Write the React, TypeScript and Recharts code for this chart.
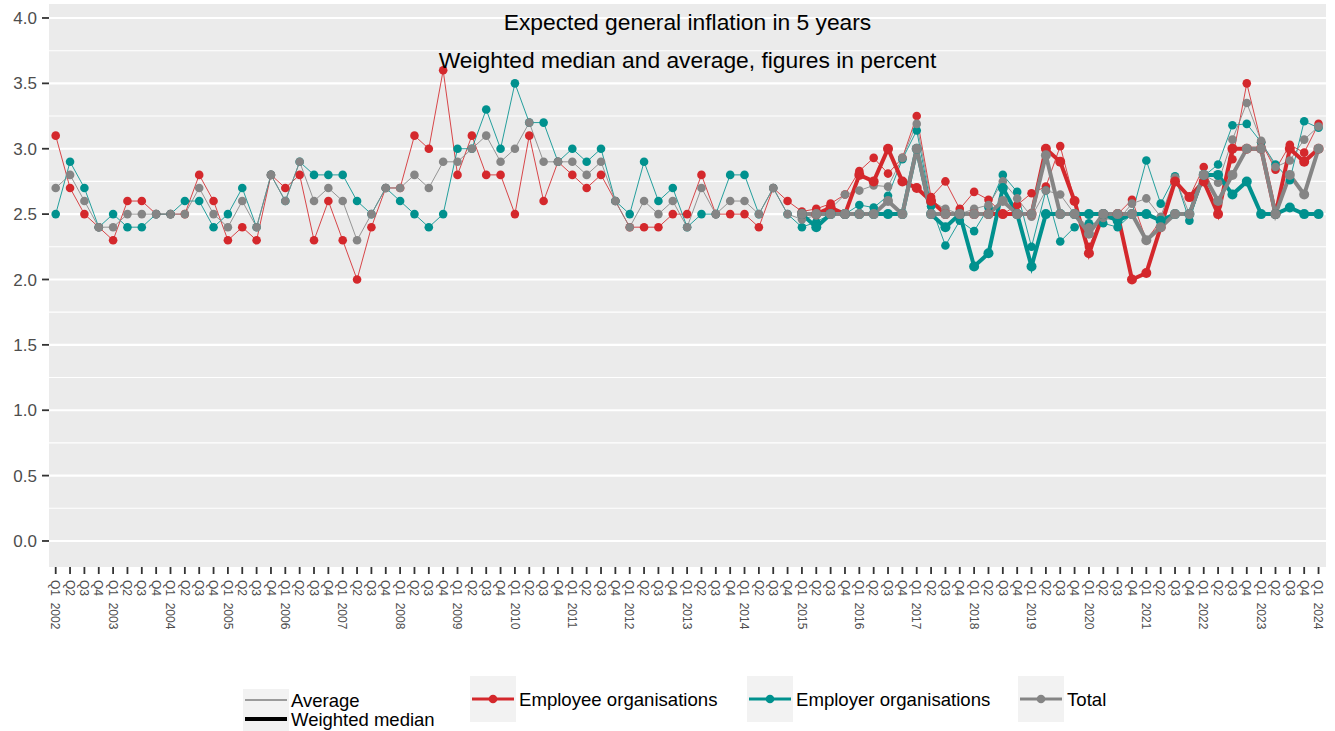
import React from 'react';
import { LineChart, Line, XAxis, YAxis, CartesianGrid } from 'recharts';

const quarterLabels: string[] = [
  'Q1 2002', 'Q2', 'Q3', 'Q4', 'Q1 2003', 'Q2', 'Q3', 'Q4', 'Q1 2004', 'Q2', 'Q3', 'Q4',
  'Q1 2005', 'Q2', 'Q3', 'Q4', 'Q1 2006', 'Q2', 'Q3', 'Q4', 'Q1 2007', 'Q2', 'Q3', 'Q4',
  'Q1 2008', 'Q2', 'Q3', 'Q4', 'Q1 2009', 'Q2', 'Q3', 'Q4', 'Q1 2010', 'Q2', 'Q3', 'Q4',
  'Q1 2011', 'Q2', 'Q3', 'Q4', 'Q1 2012', 'Q2', 'Q3', 'Q4', 'Q1 2013', 'Q2', 'Q3', 'Q4',
  'Q1 2014', 'Q2', 'Q3', 'Q4', 'Q1 2015', 'Q2', 'Q3', 'Q4', 'Q1 2016', 'Q2', 'Q3', 'Q4',
  'Q1 2017', 'Q2', 'Q3', 'Q4', 'Q1 2018', 'Q2', 'Q3', 'Q4', 'Q1 2019', 'Q2', 'Q3', 'Q4',
  'Q1 2020', 'Q2', 'Q3', 'Q4', 'Q1 2021', 'Q2', 'Q3', 'Q4', 'Q1 2022', 'Q2', 'Q3', 'Q4',
  'Q1 2023', 'Q2', 'Q3', 'Q4', 'Q1 2024',
];

// Averages, Q1 2002 - Q1 2024
const employeeAverage: number[] = [
  3.1, 2.7, 2.5, 2.4, 2.3, 2.6, 2.6, 2.5, 2.5, 2.5, 2.8, 2.6,
  2.3, 2.4, 2.3, 2.8, 2.7, 2.8, 2.3, 2.6, 2.3, 2.0, 2.4, 2.7,
  2.7, 3.1, 3.0, 3.6, 2.8, 3.1, 2.8, 2.8, 2.5, 3.1, 2.6, 2.9,
  2.8, 2.7, 2.8, 2.6, 2.4, 2.4, 2.4, 2.5, 2.5, 2.8, 2.5, 2.5,
  2.5, 2.4, 2.7, 2.6, 2.52, 2.54, 2.58, 2.65, 2.83, 2.93, 2.81, 2.93,
  3.25, 2.63, 2.75, 2.54, 2.67, 2.61, 2.5, 2.57, 2.66, 2.71, 3.02, 2.6,
  2.25, 2.5, 2.5, 2.61, 2.3, 2.45, 2.77, 2.63, 2.86, 2.57, 2.92, 3.5,
  3.05, 2.84, 3.03, 2.97, 3.19,
];
const employerAverage: number[] = [
  2.5, 2.9, 2.7, 2.4, 2.5, 2.4, 2.4, 2.5, 2.5, 2.6, 2.6, 2.4,
  2.5, 2.7, 2.4, 2.8, 2.6, 2.9, 2.8, 2.8, 2.8, 2.6, 2.5, 2.7,
  2.6, 2.5, 2.4, 2.5, 3.0, 3.0, 3.3, 3.0, 3.5, 3.2, 3.2, 2.9,
  3.0, 2.9, 3.0, 2.6, 2.5, 2.9, 2.6, 2.7, 2.4, 2.5, 2.5, 2.8,
  2.8, 2.5, 2.7, 2.5, 2.4, 2.44, 2.5, 2.5, 2.57, 2.55, 2.64, 2.92,
  3.14, 2.56, 2.26, 2.45, 2.37, 2.55, 2.8, 2.67, 2.25, 2.68, 2.29, 2.4,
  2.43, 2.43, 2.4, 2.5, 2.91, 2.58, 2.79, 2.45, 2.79, 2.88, 3.18, 3.19,
  3.05, 2.88, 2.76, 3.21, 3.16,
];
const totalAverage: number[] = [
  2.7, 2.8, 2.6, 2.4, 2.4, 2.5, 2.5, 2.5, 2.5, 2.5, 2.7, 2.5,
  2.4, 2.6, 2.4, 2.8, 2.6, 2.9, 2.6, 2.7, 2.6, 2.3, 2.5, 2.7,
  2.7, 2.8, 2.7, 2.9, 2.9, 3.0, 3.1, 2.9, 3.0, 3.2, 2.9, 2.9,
  2.9, 2.8, 2.9, 2.6, 2.4, 2.6, 2.5, 2.6, 2.4, 2.7, 2.5, 2.6,
  2.6, 2.5, 2.7, 2.5, 2.46, 2.49, 2.54, 2.65, 2.68, 2.72, 2.71, 2.93,
  3.19, 2.6, 2.54, 2.5, 2.54, 2.57, 2.75, 2.62, 2.48, 2.68, 2.65, 2.5,
  2.4, 2.47, 2.45, 2.58, 2.62, 2.48, 2.78, 2.5, 2.8, 2.74, 3.07, 3.35,
  3.06, 2.86, 2.91, 3.07, 3.17,
];

// Weighted medians, Q1 2015 - Q1 2024
const medianStartLabel = 'Q1 2015';
const employeeMedian: number[] = [
  2.5, 2.5, 2.55, 2.5, 2.8, 2.75, 3.0, 2.75, 2.7, 2.6, 2.5, 2.5,
  2.5, 2.5, 2.5, 2.5, 2.5, 3.0, 2.9, 2.6, 2.2, 2.5, 2.5, 2.0,
  2.05, 2.4, 2.75, 2.63, 2.75, 2.5, 3.0, 3.0, 3.0, 2.5, 3.0, 2.9,
  3.0,
];
const employerMedian: number[] = [
  2.5, 2.4, 2.5, 2.5, 2.5, 2.5, 2.5, 2.5, 3.0, 2.5, 2.4, 2.5,
  2.1, 2.2, 2.7, 2.5, 2.1, 2.5, 2.5, 2.5, 2.5, 2.5, 2.45, 2.5,
  2.5, 2.45, 2.5, 2.5, 2.8, 2.8, 2.65, 2.75, 2.5, 2.5, 2.55, 2.5,
  2.5,
];
const totalMedian: number[] = [
  2.5, 2.5, 2.5, 2.5, 2.5, 2.5, 2.6, 2.5, 3.0, 2.5, 2.5, 2.5,
  2.5, 2.5, 2.6, 2.5, 2.5, 2.95, 2.5, 2.5, 2.35, 2.5, 2.5, 2.5,
  2.3, 2.4, 2.5, 2.5, 2.8, 2.6, 2.8, 3.0, 3.0, 2.5, 2.8, 2.65,
  3.0,
];

const yTicks: number[] = [0, 0.5, 1, 1.5, 2, 2.5, 3, 3.5, 4];
const yMinor: number[] = [0.25, 0.75, 1.25, 1.75, 2.25, 2.75, 3.25, 3.75];

const titleText = 'Expected general inflation in 5 years';
const subtitleText = 'Weighted median and average, figures in percent';
const seriesNames = ['Employee organisations', 'Employer organisations', 'Total'];
const typeNames = ['Average', 'Weighted median'];

const RED = '#D4282C';
const TEAL = '#00918E';
const GRAY = '#858585';
const FONT = '"Liberation Sans", Arial, sans-serif';

const medianStart = quarterLabels.indexOf(medianStartLabel);

const data = quarterLabels.map((q, i) => ({
  idx: i,
  label: q,
  empAvg: employeeAverage[i],
  emrAvg: employerAverage[i],
  totAvg: totalAverage[i],
  empMed: i >= medianStart ? employeeMedian[i - medianStart] : null,
  emrMed: i >= medianStart ? employerMedian[i - medianStart] : null,
  totMed: i >= medianStart ? totalMedian[i - medianStart] : null,
}));

const xTickValues = quarterLabels.map((_, i) => i);

const XTick = (props: any) => {
  const { x, y, payload } = props;
  const label = quarterLabels[payload.value] ?? '';
  return (
    <g transform={`translate(${x},${y})`}>
      <text
        transform="rotate(90)"
        x={0}
        y={0}
        dy="0.36em"
        textAnchor="start"
        fontSize={12}
        fill="#4D4D4D"
        fontFamily={FONT}
        style={{ whiteSpace: 'pre' }}
      >
        {label.replace(' ', '  ')}
      </text>
    </g>
  );
};

const W = 1335;
const H = 731;

export default function App() {
  const thinDot = (c: string) => ({ r: 4.3, fill: c, stroke: c, strokeWidth: 0 });
  const thickDot = (c: string) => ({ r: 5, fill: c, stroke: c, strokeWidth: 0 });
  return (
    <div style={{ position: 'absolute', left: 0, top: 0, width: W, height: H, background: '#fff' }}>
      <LineChart
        width={W}
        height={H}
        data={data}
        margin={{ top: 4, right: 9, bottom: 104, left: 0 }}
      >
        <CartesianGrid
          fill="#EBEBEB"
          vertical={false}
          horizontalValues={yMinor}
          stroke="#FFFFFF"
          strokeWidth={1.1}
        />
        <CartesianGrid
          vertical={false}
          horizontalValues={yTicks}
          stroke="#FFFFFF"
          strokeWidth={2.2}
        />
        <XAxis
          dataKey="idx"
          type="number"
          domain={[-0.467, 88.52]}
          allowDataOverflow
          ticks={xTickValues}
          interval={0}
          height={60}
          axisLine={false}
          tickLine={{ stroke: '#333', strokeWidth: 1.8 }}
          tickSize={7}
          tickMargin={6}
          tick={<XTick />}
        />
        <YAxis
          type="number"
          domain={[-0.199, 4.107]}
          allowDataOverflow
          ticks={yTicks}
          interval={0}
          width={49}
          axisLine={false}
          tickLine={{ stroke: '#333', strokeWidth: 1.8 }}
          tickSize={7}
          tickMargin={5}
          tickFormatter={(v: number) => v.toFixed(1)}
          tick={{ fontSize: 17, fill: '#4D4D4D', fontFamily: FONT }}
        />
        <Line dataKey="empAvg" stroke={RED} strokeWidth={1} strokeOpacity={0.85} dot={thinDot(RED)} activeDot={false} isAnimationActive={false} />
        <Line dataKey="emrAvg" stroke={TEAL} strokeWidth={1} strokeOpacity={0.85} dot={thinDot(TEAL)} activeDot={false} isAnimationActive={false} />
        <Line dataKey="totAvg" stroke={GRAY} strokeWidth={1} strokeOpacity={0.85} dot={thinDot(GRAY)} activeDot={false} isAnimationActive={false} />
        <Line dataKey="empMed" stroke={RED} strokeWidth={4} dot={thickDot(RED)} activeDot={false} isAnimationActive={false} />
        <Line dataKey="emrMed" stroke={TEAL} strokeWidth={4} dot={thickDot(TEAL)} activeDot={false} isAnimationActive={false} />
        <Line dataKey="totMed" stroke={GRAY} strokeWidth={4} dot={thickDot(GRAY)} activeDot={false} isAnimationActive={false} />
      </LineChart>
      <svg
        width={W}
        height={H}
        style={{ position: 'absolute', left: 0, top: 0, pointerEvents: 'none' }}
      >
        <text x={687.5} y={30} textAnchor="middle" fontSize={22.8} fontFamily={FONT} fill="#000">
          {titleText}
        </text>
        <text x={687.5} y={68} textAnchor="middle" fontSize={22.8} fontFamily={FONT} fill="#000">
          {subtitleText}
        </text>
        {/* linetype legend */}
        <rect x={243} y={689} width={46} height={42} fill="#F2F2F2" />
        <line x1={245} x2={287} y1={700} y2={700} stroke="#444" strokeWidth={1} />
        <line x1={245} x2={287} y1={719} y2={719} stroke="#000" strokeWidth={4} />
        <text x={291} y={707} fontSize={18.5} fontFamily={FONT} fill="#000">{typeNames[0]}</text>
        <text x={291} y={726} fontSize={18.5} fontFamily={FONT} fill="#000">{typeNames[1]}</text>
        {/* colour legend */}
        {[
          { x: 470, c: RED, name: seriesNames[0] },
          { x: 747, c: TEAL, name: seriesNames[1] },
          { x: 1018, c: GRAY, name: seriesNames[2] },
        ].map((it) => (
          <g key={it.name}>
            <rect x={it.x} y={676} width={46} height={46} fill="#F2F2F2" />
            <line x1={it.x + 2} x2={it.x + 44} y1={699} y2={699} stroke={it.c} strokeWidth={3} />
            <circle cx={it.x + 23} cy={699} r={4.3} fill={it.c} />
            <text x={it.x + 49} y={706} fontSize={18.6} fontFamily={FONT} fill="#000">{it.name}</text>
          </g>
        ))}
      </svg>
    </div>
  );
}
